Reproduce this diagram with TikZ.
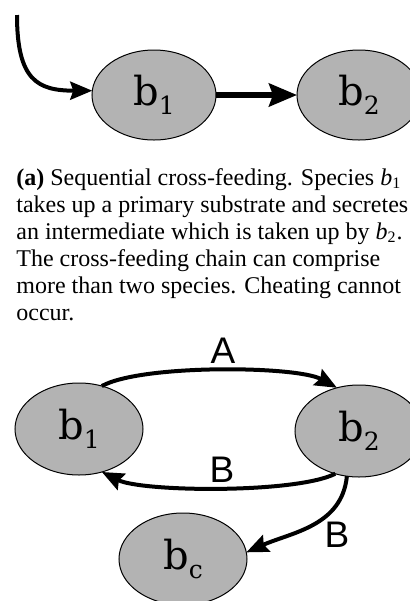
\documentclass[tikz,border=0pt]{standalone}
\usepackage{fontspec}
\setmainfont{Liberation Serif}
\newfontfamily\nodefont{DejaVu Serif}
\newfontfamily\labelfont{Liberation Sans}
\usetikzlibrary{shapes.geometric,arrows.meta}
\definecolor{cellgray}{RGB}{179,179,179}
% species name with a lowered index, e.g. b_1
\newcommand\species[2]{{\nodefont\fontsize{20}{20}\selectfont #1\raisebox{-4.6pt}{\fontsize{12.5}{12.5}\selectfont #2}}}

\begin{document}
\begin{tikzpicture}[x=0.5pt,y=-0.5pt,
  cell/.style={ellipse, draw=black, line width=0.5pt, fill=cellgray,
    inner sep=0pt, outer sep=0pt, minimum width=62pt, minimum height=45pt},
  bigcell/.style={cell, minimum width=64pt, minimum height=46pt},
  flow/.style={line width=2pt, -{Stealth[length=11pt,width=9pt,inset=1.5pt]}},
  heavyflow/.style={line width=2.6pt, -{Stealth[length=14pt,width=11.5pt,inset=2pt]}},
  edgelabel/.style={font=\labelfont\fontsize{18.5}{18.5}\selectfont, inner sep=0pt}]
\useasboundingbox (0,0) rectangle (410,601);

% (a) sequential chain
\node[cell] (t1) at (154,95) {\species{b}{1}};
\node[cell] (t2) at (359,95) {\species{b}{2}};
\coordinate (feed) at (17,15);
\draw[flow] (feed) .. controls +(0,65) and +(-55,0) .. (t1.176);
\draw[heavyflow] (t1.east) -- (t2.west);

% caption
\node[anchor=base west, inner sep=0pt, font=\fontsize{12}{13.5}\selectfont] (caption) at (16,185)
  {\vtop{\hbox{\textbf{(a)} Sequential cross-feeding. Species \textit{b}\textsubscript{1}}
         \hbox{takes up a primary substrate and secretes}
         \hbox{an intermediate which is taken up by \textit{b}\textsubscript{2}.}
         \hbox{The cross-feeding chain can comprise}
         \hbox{more than two species. Cheating cannot}
         \hbox{occur.}}};

% exchange between b1 and b2, with b_c taking up B
\node[bigcell] (b1) at (79,429) {\species{b}{1}};
\node[bigcell] (b2) at (359,431) {\species{b}{2}};
\node[bigcell] (bc) at (183,559) {\species{b}{c}};

\draw[flow] (b1.62) .. controls +(40,-22) and +(-40,-22) .. (b2.117);
\draw[flow] (b2.241) .. controls +(-40,20) and +(40,20) .. (b1.-62);
\draw[flow] (b2.-105) .. controls +(-5,50) and +(45,-20) .. (bc.6);

\node[edgelabel] (la) at (223,351) {A};
\node[edgelabel] (lb) at (222,470) {B};
\node[edgelabel] (lc) at (337,535) {B};
\end{tikzpicture}
\end{document}
